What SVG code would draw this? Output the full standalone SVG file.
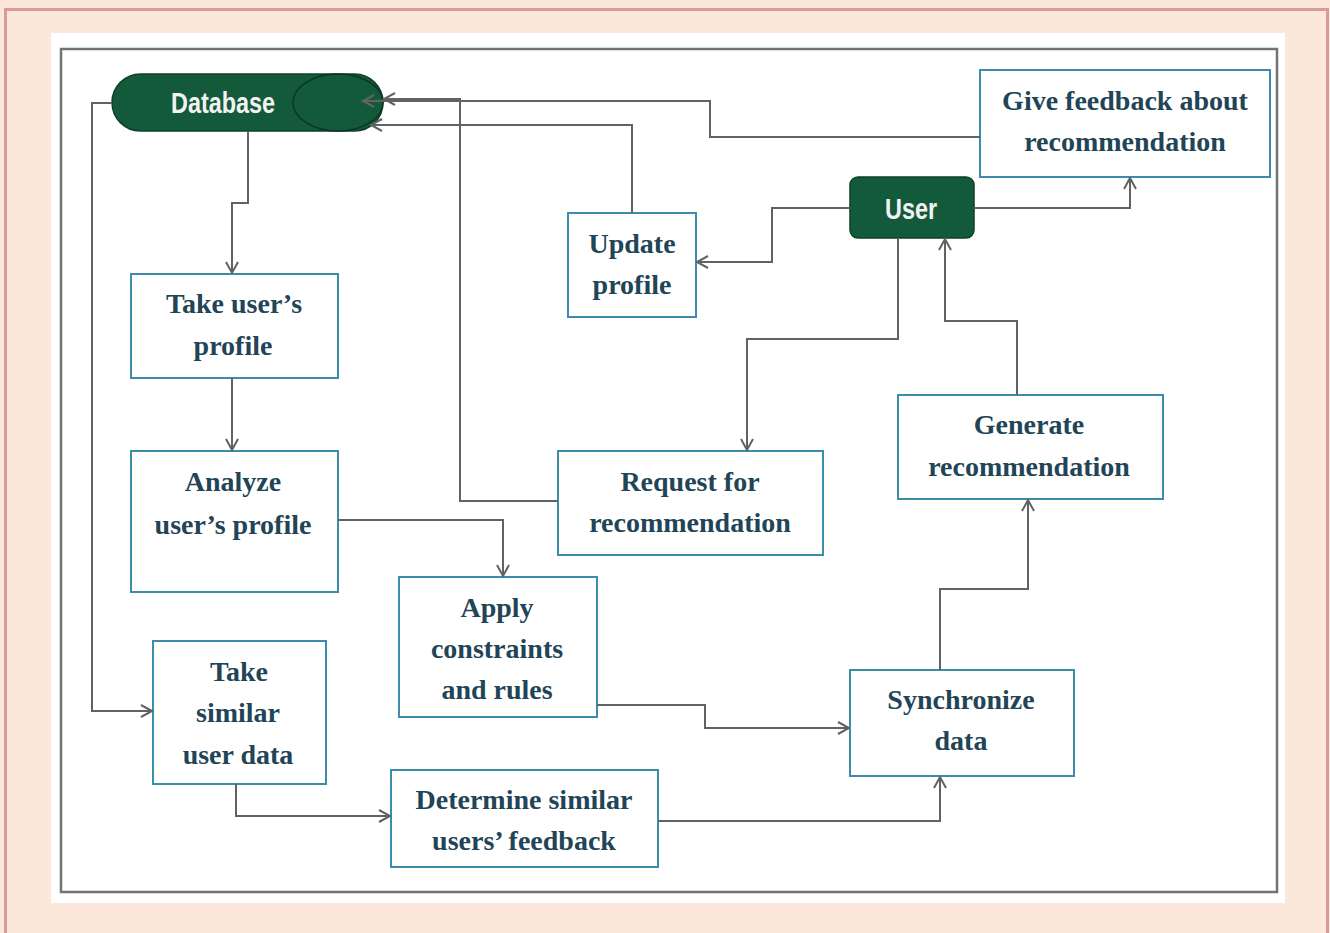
<svg xmlns="http://www.w3.org/2000/svg" width="1330" height="933" viewBox="0 0 1330 933">
<defs>
<style>
.box{fill:#ffffff;stroke:#3d8cab;stroke-width:2}
.t{font-family:"Liberation Serif","Times New Roman",serif;font-weight:bold;font-size:28px;fill:#1f4557;text-anchor:middle}
.w{font-family:"Liberation Sans",Arial,sans-serif;font-weight:bold;font-size:29px;fill:#f2f2f2;text-anchor:middle}
.c{fill:none;stroke:#5f6462;stroke-width:2;marker-end:url(#ah)}
.g{fill:#135a3b;stroke:#0f3f2a;stroke-width:1.5}
</style>
<marker id="ah" markerUnits="userSpaceOnUse" markerWidth="16" markerHeight="16" refX="12" refY="7" orient="auto" viewBox="0 0 16 16">
<path d="M1,1 L12,7 L1,13" fill="none" stroke="#5f6462" stroke-width="2"/>
</marker>
</defs>
<rect x="0" y="0" width="1330" height="933" fill="#fbe8da"/>
<path d="M5.5,933 V9.5 H1327.5 V933" fill="none" stroke="#d99a9a" stroke-width="3"/>
<rect x="51" y="33" width="1234" height="870" fill="#ffffff"/>
<rect x="61" y="49" width="1216" height="843" fill="none" stroke="#6f7572" stroke-width="2.5"/>

<g id="database">
<rect class="g" x="112" y="74" width="271" height="57" rx="28.5" ry="28.5"/>
<ellipse cx="338" cy="102.5" rx="45" ry="28.5" fill="none" stroke="#0c3523" stroke-width="1.5"/>
<text class="w" x="223" y="113" textLength="104" lengthAdjust="spacingAndGlyphs">Database</text>
</g>

<g id="user">
<rect class="g" x="850" y="177" width="124" height="61" rx="8" ry="8"/>
<text class="w" x="911" y="219" textLength="52" lengthAdjust="spacingAndGlyphs">User</text>
</g>

<g id="give-feedback">
<rect class="box" x="980" y="70" width="290" height="107"/>
<text class="t" x="1125" y="110">Give feedback about</text>
<text class="t" x="1125" y="151">recommendation</text>
</g>

<g id="update-profile">
<rect class="box" x="568" y="213" width="128" height="104"/>
<text class="t" x="632" y="253">Update</text>
<text class="t" x="632" y="294">profile</text>
</g>

<g id="take-profile">
<rect class="box" x="131" y="274" width="207" height="104"/>
<text class="t" x="234" y="313">Take user’s</text>
<text class="t" x="233" y="355">profile</text>
</g>

<g id="analyze-profile">
<rect class="box" x="131" y="451" width="207" height="141"/>
<text class="t" x="233" y="491">Analyze</text>
<text class="t" x="233" y="534">user’s profile</text>
</g>

<g id="request">
<rect class="box" x="558" y="451" width="265" height="104"/>
<text class="t" x="690" y="491">Request for</text>
<text class="t" x="690" y="532">recommendation</text>
</g>

<g id="generate">
<rect class="box" x="898" y="395" width="265" height="104"/>
<text class="t" x="1029" y="434">Generate</text>
<text class="t" x="1029" y="476">recommendation</text>
</g>

<g id="apply">
<rect class="box" x="399" y="577" width="198" height="140"/>
<text class="t" x="497" y="617">Apply</text>
<text class="t" x="497" y="658">constraints</text>
<text class="t" x="497" y="699">and rules</text>
</g>

<g id="take-similar">
<rect class="box" x="153" y="641" width="173" height="143"/>
<text class="t" x="239" y="681">Take</text>
<text class="t" x="238" y="722">similar</text>
<text class="t" x="238" y="764">user data</text>
</g>

<g id="synchronize">
<rect class="box" x="850" y="670" width="224" height="106"/>
<text class="t" x="961" y="709">Synchronize</text>
<text class="t" x="961" y="750">data</text>
</g>

<g id="determine">
<rect class="box" x="391" y="770" width="267" height="97"/>
<text class="t" x="524" y="809">Determine similar</text>
<text class="t" x="524" y="850">users’ feedback</text>
</g>

<g id="connectors">
<path class="c" d="M112,103 H92 V711 H152"/>
<path class="c" d="M248,131 V203 H232 V273"/>
<path class="c" d="M232,378 V450"/>
<path class="c" d="M338,520 H503 V576"/>
<path class="c" d="M597,705 H705 V728 H849"/>
<path class="c" d="M236,784 V816 H390"/>
<path class="c" d="M658,821 H940 V777"/>
<path class="c" d="M940,670 V589 H1028 V500"/>
<path class="c" d="M1017,395 V321 H945 V239"/>
<path class="c" d="M898,238 V339 H747 V450"/>
<path class="c" d="M850,208 H772 V262 H697"/>
<path class="c" d="M974,208 H1130 V178"/>
<path class="c" d="M980,137 H710 V101 H363"/>
<path class="c" d="M632,213 V125 H371"/>
<path class="c" d="M558,501 H460 V99 H384"/>
</g>
</svg>
